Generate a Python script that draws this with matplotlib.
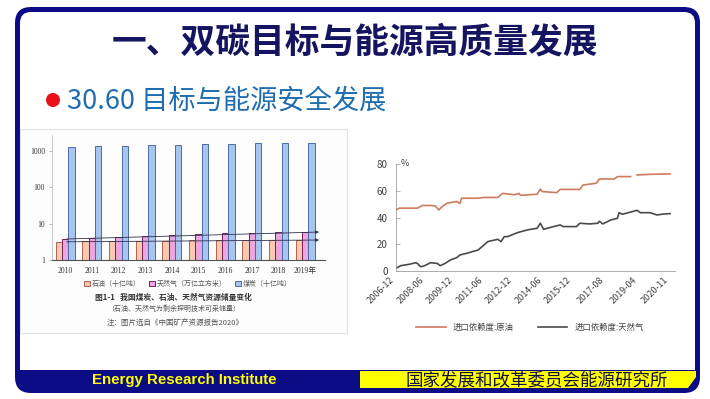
import matplotlib.pyplot as plt
import matplotlib.patches as mpatches
from matplotlib.lines import Line2D
import numpy as np
import pandas as pd

plt.rcParams['font.family'] = ['Noto Sans CJK SC', 'DejaVu Sans']

# left chart: reserves (log scale)
years = ['2010', '2011', '2012', '2013', '2014', '2015', '2016', '2017', '2018', '2019年']
oil = [3.17, 3.24, 3.33, 3.37, 3.43, 3.50, 3.50, 3.54, 3.57, 3.56]
gas = [3.78, 4.02, 4.38, 4.64, 4.95, 5.19, 5.44, 5.52, 5.79, 5.94]
coal = [1330, 1370, 1410, 1470, 1520, 1550, 1580, 1640, 1670, 1690]
res_labels = ['石油（十亿吨）', '天然气（万亿立方米）', '煤炭（十亿吨）']

# right chart: import dependency (%)
oil_dates = ['2006-12', '2007-02', '2007-06', '2008-01', '2008-04', '2008-09', '2008-12',
             '2009-02', '2009-04', '2009-07', '2010-01', '2010-03', '2010-04', '2011-02',
             '2011-06', '2012-02', '2012-05', '2012-08', '2012-12', '2013-03', '2013-04',
             '2014-02', '2014-04', '2014-05', '2015-02', '2015-04', '2016-04', '2016-06',
             '2017-02', '2017-04', '2018-01', '2018-03', '2018-11', '2019-02', '2019-03',
             '2019-11', '2020-11']
oil_dep = [45.6, 47, 47, 47, 49, 49, 48.6, 45.6, 48, 50.6, 52, 50.5, 54.4, 54.4,
           55, 55, 58, 57.6, 57, 58, 56.6, 57.4, 61.3, 59.4, 58.6, 61, 61, 64.3,
           65.6, 68.8, 68.8, 70.6, 70.6, np.nan, 71.8, 72.3, 72.6]
gas_dates = ['2006-12', '2007-03', '2007-08', '2007-12', '2008-01', '2008-03', '2008-05',
             '2008-09', '2009-01', '2009-03', '2009-06', '2009-09', '2010-01', '2010-03',
             '2010-07', '2011-02', '2011-05', '2011-08', '2012-02', '2012-04', '2012-06',
             '2012-08', '2013-02', '2013-08', '2014-02', '2014-04', '2014-06', '2014-12',
             '2015-04', '2015-06', '2016-02', '2016-04', '2016-10', '2017-03', '2017-04',
             '2017-06', '2017-11', '2018-03', '2018-04', '2018-06', '2019-03', '2019-05',
             '2019-11', '2020-03', '2020-07', '2020-11']
gas_dep = [2, 4, 5, 6.2, 5.7, 3.2, 3.7, 6.2, 5.7, 4, 5.7, 8.2, 10, 12,
           13.2, 15.7, 18.7, 22, 23.7, 22, 25.7, 25.7, 28.7, 30.7, 32, 35.7, 31.2, 33.2,
           34.4, 33.2, 33.2, 35.7, 35.2, 35.7, 37.2, 35.2, 38.2, 39.4, 43.6, 42.4, 45.4, 43.6,
           43.6, 41.9, 42.6, 42.9]
tick_dates = ['2006-12', '2008-06', '2009-12', '2011-06', '2012-12', '2014-06',
              '2015-12', '2017-08', '2019-04', '2020-11']
dep_labels = ['进口依赖度:原油', '进口依赖度:天然气']

NAVY = '#0b0b85'

fig = plt.figure(figsize=(7.1, 3.99), dpi=100)

# slide background drawn in pixel coordinates
bg = fig.add_axes([0, 0, 1, 1], zorder=0)
bg.set_xlim(0, 710)
bg.set_ylim(399, 0)
bg.axis('off')
bg.add_patch(mpatches.FancyBboxPatch((15, 7), 685, 386, boxstyle='round,pad=0,rounding_size=16',
                                     fc=NAVY, ec='none'))
bg.add_patch(mpatches.FancyBboxPatch((20, 12), 675, 370, boxstyle='round,pad=0,rounding_size=11',
                                     fc='white', ec='none'))
bg.add_patch(mpatches.Rectangle((19, 370), 677, 18, fc=NAVY, ec='none'))
bg.add_patch(mpatches.Polygon([(360, 371), (696, 371), (696, 377), (688, 388), (360, 388)],
                              closed=True, fc='#ffff00', ec='none'))
bg.text(184, 380, 'Energy Research Institute', fontsize=10.8, fontweight='bold',
        family=['Liberation Sans', 'DejaVu Sans'], color='#ffff00', ha='center', va='center')
bg.text(537, 380, '国家发展和改革委员会能源研究所', fontsize=12.6, color='#101040',
        ha='center', va='center')

bg.text(355, 42, '一、双碳目标与能源高质量发展', fontsize=25, fontweight='bold',
        color='#141460', ha='center', va='center')
bg.add_patch(mpatches.Circle((53, 100), 7, fc='#e8101a', ec='none'))
bg.text(67, 101, '30.60 目标与能源安全发展', fontsize=19.6, color='#1f6db0',
        ha='left', va='center')

bg.add_patch(mpatches.Rectangle((20, 129), 327, 204, fc='#fdfdfd', ec='#e2e2e2', lw=0.8))

# left chart
axL = fig.add_axes([52 / 710, (399 - 260) / 399, 273 / 710, 125 / 399], zorder=1)
axL.set_facecolor('none')
x = np.arange(len(years))
w = 0.236
b1 = axL.bar(x - w, oil, w, log=True, color='#f9c9b2', edgecolor='#b8604a', lw=0.7)
b2 = axL.bar(x, gas, w, log=True, color='#eaa6df', edgecolor='#7a1f5a', lw=0.7)
b3 = axL.bar(x + w, coal, w, log=True, color='#a8c5ee', edgecolor='#4a6aa8', lw=0.7)
axL.set_ylim(1, 2800)
axL.set_xlim(-0.49, 9.74)
axL.annotate('', xy=(9.62, gas[-1]), xytext=(-0.05, gas[0]),
             arrowprops=dict(arrowstyle='-|>', color='#303050', lw=0.6, mutation_scale=5))
axL.annotate('', xy=(9.62, oil[-1]), xytext=(-0.05, oil[0]),
             arrowprops=dict(arrowstyle='-|>', color='#303050', lw=0.6, mutation_scale=5))
axL.set_yticks([1, 10, 100, 1000])
axL.set_yticklabels(['1', '10', '100', '1000'])
axL.minorticks_off()
axL.set_xticks(x)
axL.set_xticklabels(years)
for lab in axL.get_xticklabels() + axL.get_yticklabels():
    lab.set_family(['Liberation Serif', 'Noto Sans CJK SC'])
    lab.set_fontsize(5.5)
    lab.set_color('#333333')
axL.tick_params(axis='x', length=0, pad=5)
axL.tick_params(axis='y', length=2, width=0.5, color='#999999', pad=3)
for s in ['top', 'right']:
    axL.spines[s].set_visible(False)
axL.spines['left'].set_color('#c0c0c0')
axL.spines['left'].set_linewidth(0.6)
axL.spines['bottom'].set_color('#505050')
axL.spines['bottom'].set_linewidth(0.8)

fig.legend([b1, b2, b3], res_labels, loc='center', bbox_to_anchor=(188 / 710, (399 - 284) / 399),
           ncol=3, frameon=False, fontsize=5, handlelength=0.8, handleheight=0.8,
           columnspacing=1.2, handletextpad=0.3, labelcolor='#555555')
fig.text(173 / 710, (399 - 297) / 399, '图1-1   我国煤炭、石油、天然气资源储量变化', fontsize=5.6,
         fontweight='bold', color='#333333', ha='center', va='center')
fig.text(174 / 710, (399 - 309) / 399, '（石油、天然气为剩余探明技术可采储量）', fontsize=5,
         color='#555555', ha='center', va='center')
fig.text(175 / 710, (399 - 323) / 399, '注：图片选自《中国矿产资源报告2020》', fontsize=5.4,
         color='#555555', ha='center', va='center')

# right chart
axR = fig.add_axes([396 / 710, (399 - 271) / 399, 279 / 710, 107 / 399], zorder=1)
axR.set_facecolor('none')
oil_c = '#cf7a5c'
gas_c = '#4a4a4a'
axR.plot(pd.to_datetime(oil_dates), oil_dep, color=oil_c, lw=1.2)
axR.plot(pd.to_datetime(gas_dates), gas_dep, color=gas_c, lw=1.2)
axR.set_ylim(0, 80)
axR.set_xlim(pd.Timestamp('2006-12-01'), pd.Timestamp('2021-02-01'))
axR.set_yticks([0, 20, 40, 60, 80])
axR.set_xticks(pd.to_datetime(tick_dates))
axR.set_xticklabels(tick_dates, rotation=45, ha='right')
axR.tick_params(axis='x', length=0, labelsize=6.5, labelcolor='#404040', pad=3)
axR.tick_params(axis='y', direction='in', length=3, width=0.5, color='#999999',
                labelsize=7, labelcolor='#404040', pad=6)
for s in ['top', 'right']:
    axR.spines[s].set_visible(False)
axR.spines['left'].set_color('#a0a0a0')
axR.spines['bottom'].set_color('#a0a0a0')
axR.spines['left'].set_linewidth(0.6)
axR.spines['bottom'].set_linewidth(0.6)
axR.text(0.015, 1.0, '%', transform=axR.transAxes, fontsize=6.5, color='#404040',
         ha='left', va='center')

fig.legend([Line2D([], [], color=oil_c, lw=1.2), Line2D([], [], color=gas_c, lw=1.2)], dep_labels,
           loc='center', bbox_to_anchor=(530 / 710, (399 - 327) / 399), ncol=2, frameon=False,
           fontsize=6, handlelength=3.5, columnspacing=3, labelcolor='#404040')

fig.savefig('out.png', dpi=100)
